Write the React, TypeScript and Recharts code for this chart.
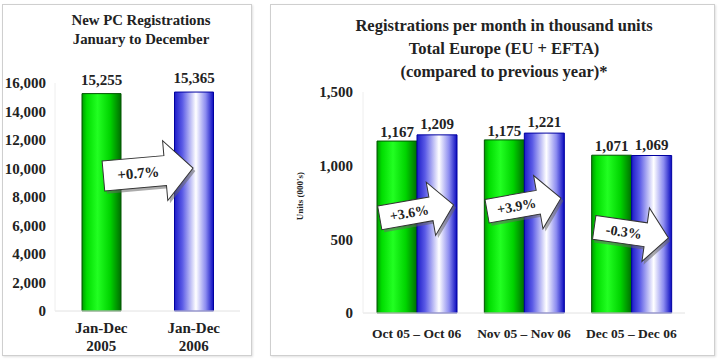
import { Bar, BarChart, Cell, LabelList, ReferenceDot, XAxis, YAxis } from 'recharts';

// left panel: full year totals (thousand units)
const yearPeriods = ['Jan-Dec 2005', 'Jan-Dec 2006'];
const yearRegs = [15255, 15365];
const yearChange = '+0.7%';
const yearTicks = [0, 2000, 4000, 6000, 8000, 10000, 12000, 14000, 16000];

// right panel: monthly comparison
const monthPeriods = ['Oct 05 – Oct 06', 'Nov 05 – Nov 06', 'Dec 05 – Dec 06'];
const regs2005 = [1167, 1175, 1071];
const regs2006 = [1209, 1221, 1069];
const monthChange = ['+3.6%', '+3.9%', '-0.3%'];
const monthTicks = [0, 500, 1000, 1500];

const yearData = yearPeriods.map((period, i) => ({ period, regs: yearRegs[i] }));
const monthData = monthPeriods.map((period, i) => ({ period, prev: regs2005[i], curr: regs2006[i] }));

// arrow placement (value units for height, degrees for tilt)
const yearArrow = { y: 9750, tilt: -5 };
const monthArrows = [
    { y: 690, tilt: -10 },
    { y: 735, tilt: -10 },
    { y: 545, tilt: 8 },
];

const FONT = '"Liberation Serif", "Times New Roman", serif';
const fmt = (v: number) => v.toLocaleString('en-US');

const tickStyle = { fontSize: 15, fontWeight: 700, fill: '#222', fontFamily: FONT };

function Gradients() {
    return (
        <defs>
            <linearGradient id="gGreen" x1="0" y1="0" x2="1" y2="0">
                <stop offset="0%" stopColor="#009a00" />
                <stop offset="12%" stopColor="#00dd00" />
                <stop offset="40%" stopColor="#22ff22" />
                <stop offset="72%" stopColor="#00d400" />
                <stop offset="100%" stopColor="#006e00" />
            </linearGradient>
            <linearGradient id="gBlue" x1="0" y1="0" x2="1" y2="0">
                <stop offset="0%" stopColor="#1c1cc8" />
                <stop offset="20%" stopColor="#5a5ae6" />
                <stop offset="55%" stopColor="#ffffff" />
                <stop offset="80%" stopColor="#8c8cf0" />
                <stop offset="100%" stopColor="#0a0abf" />
            </linearGradient>
        </defs>
    );
}

function Arrow(props: any) {
    const { cx, cy, text, tilt, dx = 0, len, bodyH, headL, headH, fontSize } = props;
    const l = -len / 2;
    const r = len / 2;
    const hb = r - headL;
    const pts = [
        [l, -bodyH / 2],
        [hb, -bodyH / 2],
        [hb, -headH / 2],
        [r, 0],
        [hb, headH / 2],
        [hb, bodyH / 2],
        [l, bodyH / 2],
    ]
        .map((p) => p.join(','))
        .join(' ');
    return (
        <g transform={`translate(${cx + dx},${cy}) rotate(${tilt})`}>
            <polygon points={pts} transform="translate(2,3)" fill="#666" opacity={0.55} />
            <polygon points={pts} fill="#fff" stroke="#333" strokeWidth={1} />
            <text
                x={(l + hb) / 2 + 4}
                y={0}
                dy="0.35em"
                textAnchor="middle"
                fontFamily={FONT}
                fontWeight={700}
                fontSize={fontSize}
                fill="#222"
            >
                {text}
            </text>
        </g>
    );
}

function TwoLineTick({ x, y, payload }: any) {
    const parts = String(payload.value).split(' ');
    return (
        <text x={x} y={y} textAnchor="middle" fontFamily={FONT} fontWeight={700} fontSize={15} fill="#222">
            <tspan x={x} dy={22}>{parts[0]}</tspan>
            <tspan x={x} dy={18}>{parts[1]}</tspan>
        </text>
    );
}

function OneLineTick({ x, y, payload }: any) {
    return (
        <text x={x} y={y + 25} textAnchor="middle" fontFamily={FONT} fontWeight={700} fontSize={13.5} fill="#222">
            {payload.value}
        </text>
    );
}

const panel = {
    position: 'absolute' as const,
    border: '1px solid #cfcfcf',
    boxShadow: '1px 1px 2px rgba(0,0,0,0.12)',
    background: '#fff',
};

const titleStyle = {
    position: 'absolute' as const,
    textAlign: 'center' as const,
    fontFamily: FONT,
    fontWeight: 700,
    color: '#222',
};

export default function App() {
    return (
        <div style={{ position: 'absolute', left: 0, top: 0, width: 720, height: 360, background: '#fff', overflow: 'hidden' }}>
            <div style={{ ...panel, left: 2, top: 4, width: 248, height: 350 }} />
            <div style={{ ...panel, left: 270, top: 4, width: 443, height: 350 }} />

            <div style={{ ...titleStyle, left: 30, width: 222, top: 11, fontSize: 14.8, lineHeight: '19px' }}>
                <div>New PC Registrations</div>
                <div>January to December</div>
            </div>
            <div style={{ ...titleStyle, left: 330, width: 348, top: 14, fontSize: 16.5, lineHeight: '23px' }}>
                <div>Registrations per month in thousand units</div>
                <div>Total Europe (EU + EFTA)</div>
                <div>(compared to previous year)*</div>
            </div>

            <div style={{ position: 'absolute', left: 0, top: 0 }}>
                <BarChart width={258} height={360} data={yearData} margin={{ top: 83, right: 18, bottom: 19, left: 0 }}>
                    <Gradients />
                    <XAxis
                        dataKey="period"
                        height={30}
                        axisLine={{ stroke: '#e2e2e2' }}
                        tickLine={false}
                        tickSize={0}
                        tickMargin={0}
                        tick={<TwoLineTick />}
                        interval={0}
                    />
                    <YAxis
                        width={55}
                        domain={[0, 16000]}
                        ticks={yearTicks}
                        tickFormatter={fmt}
                        axisLine={{ stroke: '#eeeeee' }}
                        tickLine={false}
                        tickSize={0}
                        tickMargin={9}
                        tick={tickStyle}
                    />
                    <Bar dataKey="regs" barSize={39} isAnimationActive={false}>
                        {yearData.map((d, i) => (
                            <Cell key={d.period} fill={i === 0 ? 'url(#gGreen)' : 'url(#gBlue)'} stroke={i === 0 ? '#005500' : '#0000a0'} strokeWidth={1} />
                        ))}
                        <LabelList dataKey="regs" position="top" offset={9} formatter={fmt} style={tickStyle} />
                    </Bar>
                    <ReferenceDot
                        x={yearPeriods[0]}
                        y={yearArrow.y}
                        shape={(p: any) => (
                            <Arrow cx={p.cx} cy={p.cy} dx={47} text={yearChange} tilt={yearArrow.tilt} len={90} bodyH={30} headL={28} headH={60} fontSize={15} />
                        )}
                    />
                </BarChart>
            </div>

            <div style={{ position: 'absolute', left: 260, top: 0 }}>
                <BarChart width={460} height={360} data={monthData} barGap={0} margin={{ top: 92, right: 35, bottom: 17, left: 0 }}>
                    <Gradients />
                    <XAxis
                        dataKey="period"
                        height={30}
                        axisLine={{ stroke: '#e2e2e2' }}
                        tickLine={false}
                        tickSize={0}
                        tickMargin={0}
                        tick={<OneLineTick />}
                        interval={0}
                    />
                    <YAxis
                        width={103}
                        domain={[0, 1500]}
                        ticks={monthTicks}
                        tickFormatter={fmt}
                        axisLine={{ stroke: '#eeeeee' }}
                        tickLine={false}
                        tickSize={0}
                        tickMargin={10}
                        tick={tickStyle}
                    />
                    <Bar dataKey="prev" barSize={40} fill="url(#gGreen)" stroke="#005500" strokeWidth={1} isAnimationActive={false}>
                        <LabelList dataKey="prev" position="top" offset={4} formatter={fmt} style={tickStyle} />
                    </Bar>
                    <Bar dataKey="curr" barSize={40} fill="url(#gBlue)" stroke="#0000a0" strokeWidth={1} isAnimationActive={false}>
                        <LabelList dataKey="curr" position="top" offset={6} formatter={fmt} style={tickStyle} />
                    </Bar>
                    {monthPeriods.map((period, i) => (
                        <ReferenceDot
                            key={period}
                            x={period}
                            y={monthArrows[i].y}
                            shape={(p: any) => (
                                <Arrow cx={p.cx} cy={p.cy} text={monthChange[i]} tilt={monthArrows[i].tilt} len={75} bodyH={24} headL={23} headH={54} fontSize={14} />
                            )}
                        />
                    ))}
                </BarChart>
            </div>

            <div
                style={{
                    position: 'absolute',
                    left: 300,
                    top: 196,
                    transform: 'translate(-50%, -50%) rotate(-90deg)',
                    fontFamily: FONT,
                    fontWeight: 700,
                    fontSize: 9,
                    color: '#222',
                    whiteSpace: 'nowrap',
                }}
            >
                Units (000's)
            </div>
        </div>
    );
}
